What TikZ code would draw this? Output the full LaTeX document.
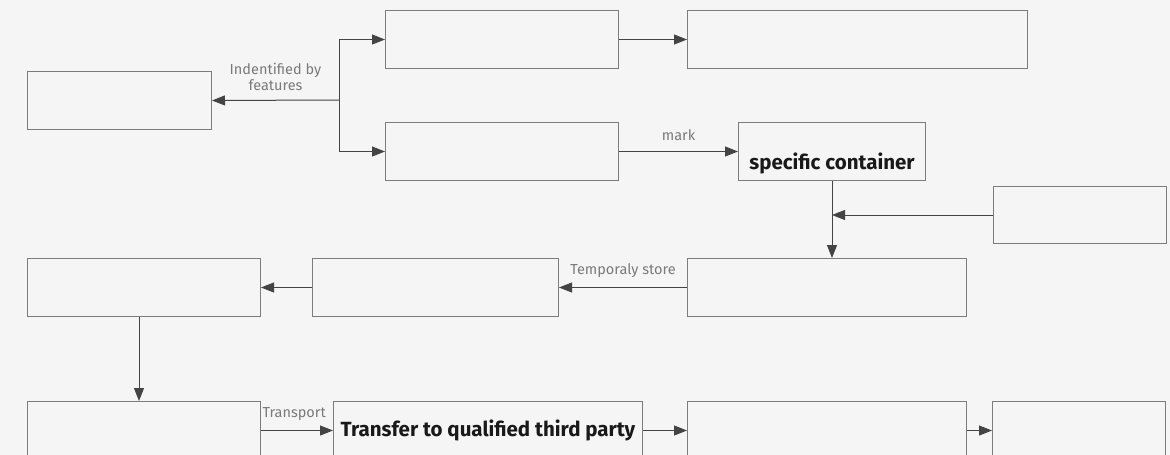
\documentclass[tikz,border=0pt]{standalone}
\usepackage{fontspec}
\setmainfont{Fira Sans}
\usetikzlibrary{arrows.meta,positioning}
\definecolor{bgcol}{HTML}{F5F5F5}
\definecolor{boxline}{HTML}{7C7C7C}
\definecolor{linecol}{HTML}{444444}
\definecolor{lblcol}{HTML}{7A7A7A}

\begin{document}
\begin{tikzpicture}[
    x=1pt, y=-1pt,
    every node/.style={font=\fontsize{13}{15}\selectfont},
    box/.style={draw=boxline, line width=1pt, inner sep=0pt, minimum height=58pt},
    title/.style={font=\fontsize{20.5}{23}\selectfont\bfseries, text=black!90},
    lbl/.style={text=lblcol, inner sep=2pt, align=center, font=\fontsize{14.5}{16.5}\selectfont},
    flow/.style={-{Triangle[length=13pt,width=10pt]}, draw=linecol, line width=1pt}
]
\fill[bgcol] (0,0) rectangle (1170,455);
\useasboundingbox (0,0) rectangle (1170,455);

\node[box, minimum width=184pt, anchor=north west] (feature) at (27,71) {};
\node[box, minimum width=233pt, anchor=north west] (upper) at (385,10) {};
\node[box, minimum width=340pt, right=68pt of upper] (upperout) {};
\node[box, minimum width=233pt, anchor=north west] (lower) at (385,122) {};
\node[box, minimum width=187pt, right=119pt of lower, title, text height=38pt, text depth=2pt] (container) {specific container};
\node[box, minimum width=173pt, minimum height=57pt, anchor=north west] (source) at (993,186) {};
\node[box, minimum width=279pt, anchor=north west] (store) at (687,258) {};
\node[box, minimum width=246pt, left=128pt of store] (staging) {};
\node[box, minimum width=233pt, left=51pt of staging] (collect) {};
\node[box, minimum width=233pt, anchor=north west] (transport) at (27,401) {};
\node[box, minimum width=309pt, right=72pt of transport, title] (transfer) {Transfer to qualified third party};
\node[box, minimum width=279pt, right=44pt of transfer] (receiver) {};
\node[box, minimum width=173pt, right=25pt of receiver] (final) {};

\coordinate (split) at (339,100);
\coordinate (drop) at ([xshift=-5pt]collect.south);
\draw[flow] (split) -- node[lbl, above=7pt] {Indentified by\\features} (feature.east);
\draw[flow] (split) |- (upper.west);
\draw[flow] (split) |- (lower.west);
\draw[flow] (upper) -- (upperout);
\draw[flow] (lower) -- node[lbl, above=8pt] {mark} (container);
\draw[flow] (container.south) -- (container.south |- store.north);
\draw[flow] (source.west) -- (source.west -| container.south);
\draw[flow] (store) -- node[lbl, above=7pt] {Temporaly store} (staging);
\draw[flow] (staging) -- (collect);
\draw[flow] (drop) -- (transport.north -| drop);
\draw[flow] (transport) -- node[lbl, above right, pos=0, inner sep=1pt, yshift=8pt] {Transport} (transfer);
\draw[flow] (transfer) -- (receiver);
\draw[flow] (receiver) -- (final);
\end{tikzpicture}
\end{document}
